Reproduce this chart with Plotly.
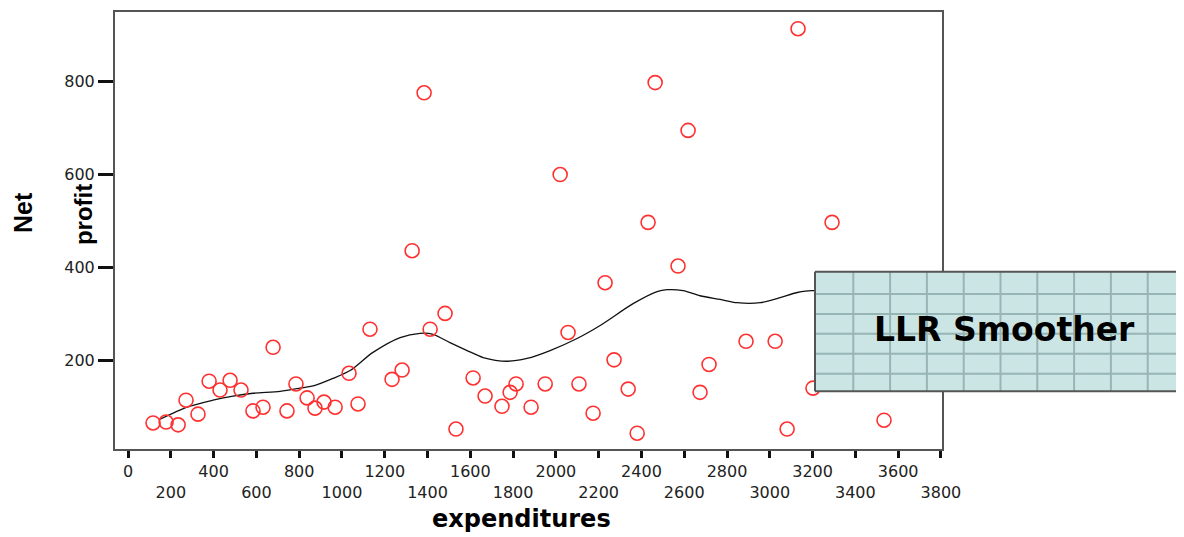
import plotly.graph_objects as go

# ---- data ----
expenditures = [117, 178, 234, 271, 327, 379, 430, 477, 528, 584, 631, 678, 743, 785,
                837, 874, 916, 968, 1033, 1075, 1131, 1234, 1281, 1328, 1384, 1412, 1482,
                1533, 1613, 1669, 1748, 1786, 1814, 1884, 1950, 2020, 2057, 2108, 2174,
                2230, 2272, 2338, 2380, 2431, 2464, 2571, 2618, 2674, 2716, 2889, 3025,
                3081, 3132, 3202, 3291, 3534]
net_profit = [65, 67, 61, 114, 84, 155, 136, 157, 136, 91, 99, 228, 91, 149,
              119, 97, 110, 99, 172, 106, 267, 159, 179, 436, 776, 267, 301,
              52, 162, 123, 101, 131, 149, 99, 149, 600, 260, 149, 86,
              367, 201, 138, 43, 497, 798, 403, 695, 131, 191, 241, 241,
              52, 914, 140, 497, 71]

smooth_x = [150, 276, 397, 491, 584, 711, 804, 874, 958, 1038, 1145, 1272, 1365, 1426,
            1505, 1585, 1660, 1772, 1865, 1973, 2099, 2207, 2361, 2473, 2520, 2595,
            2674, 2768, 2847, 2955, 3048, 3128, 3202, 3300, 3420, 3500, 3539]
smooth_y = [73, 99, 114, 123, 129, 133, 140, 146, 161, 178, 217, 249, 258, 256,
            238, 221, 206, 198, 204, 221, 247, 275, 322, 348, 352, 350,
            339, 331, 324, 324, 335, 346, 350, 340, 280, 200, 132]

x_tick_vals = list(range(0, 3801, 200))
y_tick_vals = [200, 400, 600, 800]
x_label = "expenditures"
y_label_lines = ["Net", "profit"]
box_label = "LLR Smoother"

# ---- layout geometry (reference pixels; page body has an 8px margin) ----
OFF = 8
W, H = 1184 - OFF, 537 - OFF
L, R, T, B = 115, 942, 10, 449   # plot area in reference pixels


def px(xp):
    return (xp - L) / (R - L)


def py(yp):
    return (B - yp) / (B - T)


x_tick_text = [str(v) if (v // 200) % 2 == 0 else "<br>" + str(v) for v in x_tick_vals]

fig = go.Figure()
fig.add_trace(go.Scatter(
    x=smooth_x, y=smooth_y, mode="lines",
    line=dict(color="#111111", width=1.3, shape="spline", smoothing=0.8),
    showlegend=False, hoverinfo="skip"))
fig.add_trace(go.Scatter(
    x=expenditures, y=net_profit, mode="markers",
    marker=dict(symbol="circle-open", size=14, color="#ff3030", line=dict(width=1.6)),
    showlegend=False))

tick_font = dict(family="DejaVu Sans", size=16, color="#222222")
fig.update_xaxes(
    range=[-61, 3805], tickvals=x_tick_vals, ticktext=x_tick_text,
    ticks="outside", ticklen=7, tickwidth=3, tickcolor="#111111",
    showline=True, linecolor="#555555", linewidth=2, mirror=True,
    showgrid=False, zeroline=False, tickfont=tick_font)
fig.update_yaxes(
    range=[9, 950], tickvals=y_tick_vals,
    ticks="outside", ticklen=15, tickwidth=3, tickcolor="#111111",
    showline=True, linecolor="#555555", linewidth=2, mirror=True,
    showgrid=False, zeroline=False, tickfont=tick_font)

shapes = []
bx0, bx1, by0, by1 = 815, 1186, 271, 391
shapes.append(dict(type="rect", xref="paper", yref="paper",
                   x0=px(bx0), x1=px(bx1), y0=py(by1), y1=py(by0),
                   fillcolor="#cbe5e5", line=dict(width=0), layer="above"))
gx = 853.3
while gx < 1184:
    shapes.append(dict(type="line", xref="paper", yref="paper",
                       x0=px(gx), x1=px(gx), y0=py(by1), y1=py(by0),
                       line=dict(color="#97b5b5", width=2), layer="above"))
    gx += 36.8
gy = 293.3
while gy < by1 - 2:
    shapes.append(dict(type="line", xref="paper", yref="paper",
                       x0=px(bx0), x1=px(bx1), y0=py(gy), y1=py(gy),
                       line=dict(color="#97b5b5", width=2), layer="above"))
    gy += 20
for (a0, b0, a1, b1) in [(bx0, by0, bx0, by1), (bx0, by0, bx1, by0), (bx0, by1, bx1, by1)]:
    shapes.append(dict(type="line", xref="paper", yref="paper",
                       x0=px(a0), x1=px(a1), y0=py(b0), y1=py(b1),
                       line=dict(color="#555555", width=2), layer="above"))

annotations = [
    dict(text=box_label, xref="paper", yref="paper", x=px(1005), y=py(329),
         xanchor="center", yanchor="middle", showarrow=False,
         font=dict(family="DejaVu Sans", size=33, color="#000000", weight="bold")),
    dict(text=x_label, xref="paper", yref="paper", x=px(521), y=py(519),
         xanchor="center", yanchor="middle", showarrow=False,
         font=dict(family="DejaVu Sans", size=24, color="#000000", weight="bold")),
    dict(text=y_label_lines[0], xref="paper", yref="paper", x=px(23), y=py(212),
         xanchor="center", yanchor="middle", showarrow=False, textangle=-90,
         font=dict(family="Liberation Sans", size=25, color="#000000", weight="bold")),
    dict(text=y_label_lines[1], xref="paper", yref="paper", x=px(83), y=py(214),
         xanchor="center", yanchor="middle", showarrow=False, textangle=-90,
         font=dict(family="Liberation Sans", size=24, color="#000000", weight="bold")),
]

fig.update_layout(
    width=W, height=H, autosize=False,
    margin=dict(l=L - OFF, r=(W + OFF) - R, t=T - OFF, b=(H + OFF) - B, pad=0),
    paper_bgcolor="white", plot_bgcolor="white",
    shapes=shapes, annotations=annotations, showlegend=False)

fig.write_html("out.html")
